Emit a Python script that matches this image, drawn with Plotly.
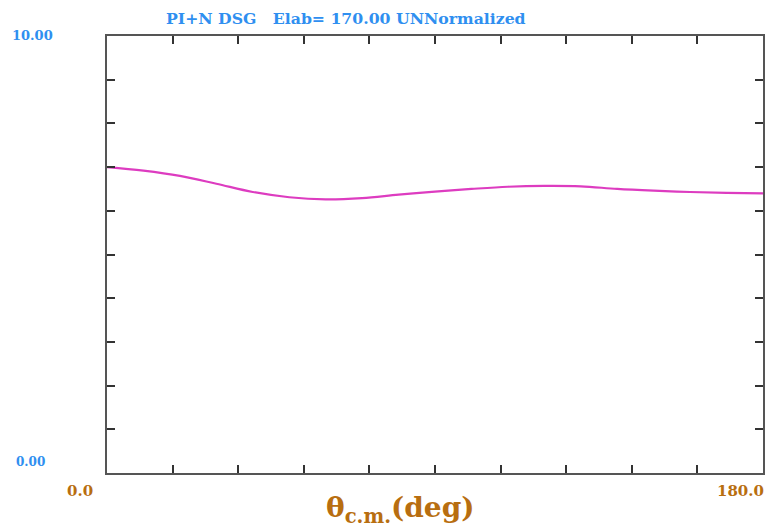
import plotly.graph_objects as go

theta = [0, 10, 20, 30, 40, 50, 60, 70, 80, 90, 100, 110, 120, 130, 140, 150, 160, 170, 180]
dsg = [7.00, 6.92, 6.80, 6.62, 6.43, 6.31, 6.26, 6.29, 6.37, 6.44, 6.50, 6.55, 6.57, 6.56, 6.50, 6.46, 6.43, 6.41, 6.40]

x_ticks = [18 * i for i in range(11)]
y_ticks = list(range(11))

title_text = "PI+N DSG   Elab= 170.00 UNNormalized"
blue = "#2f8ff0"
brown = "#b86e10"
serif = "DejaVu Serif, Liberation Serif, serif"

fig = go.Figure()
fig.add_trace(go.Scatter(x=theta, y=dsg, mode="lines", line=dict(color="#dd3cc0", width=2.2, shape="spline"),
                         showlegend=False, hoverinfo="skip"))

axis_common = dict(showgrid=False, zeroline=False, showline=True, linecolor="#555555", linewidth=2,
                   ticks="inside", ticklen=8, tickwidth=2, tickcolor="#333333", mirror="allticks",
                   showticklabels=False)
fig.update_xaxes(range=[0, 180], tickvals=x_ticks, **axis_common)
fig.update_yaxes(range=[0, 10], tickvals=y_ticks, **axis_common)

fig.update_layout(
    width=769, height=531,
    margin=dict(l=107, r=4, t=36, b=58),
    paper_bgcolor="white", plot_bgcolor="white",
    font=dict(family=serif),
)

fig.add_annotation(text=title_text, xref="paper", yref="paper", x=0.365, y=1.0, yshift=18,
                   xanchor="center", yanchor="middle", showarrow=False,
                   font=dict(family=serif, size=15.7, color=blue, weight="bold"))
fig.add_annotation(text="10.00", xref="paper", yref="paper", x=0, xshift=-97, y=1.0, yshift=1,
                   xanchor="left", yanchor="middle", showarrow=False,
                   font=dict(family=serif, size=13, color=blue, weight="bold"))
fig.add_annotation(text="0.00", xref="paper", yref="paper", x=0, xshift=-93, y=0, yshift=11,
                   xanchor="left", yanchor="middle", showarrow=False,
                   font=dict(family=serif, size=12, color=blue, weight="bold"))
fig.add_annotation(text="0.0", xref="paper", yref="paper", x=0, xshift=-12, y=0, yshift=-18,
                   xanchor="right", yanchor="middle", showarrow=False,
                   font=dict(family=serif, size=15, color=brown, weight="bold"))
fig.add_annotation(text="180.0", xref="paper", yref="paper", x=1, xshift=3, y=0, yshift=-18,
                   xanchor="right", yanchor="middle", showarrow=False,
                   font=dict(family=serif, size=15, color=brown, weight="bold"))
fig.add_annotation(text="θ<sub>c.m.</sub>(deg)", xref="paper", yref="paper", x=0.447, y=0, yshift=-36,
                   xanchor="center", yanchor="middle", showarrow=False,
                   font=dict(family=serif, size=28, color=brown, weight="bold"))

fig.write_html("out.html")
